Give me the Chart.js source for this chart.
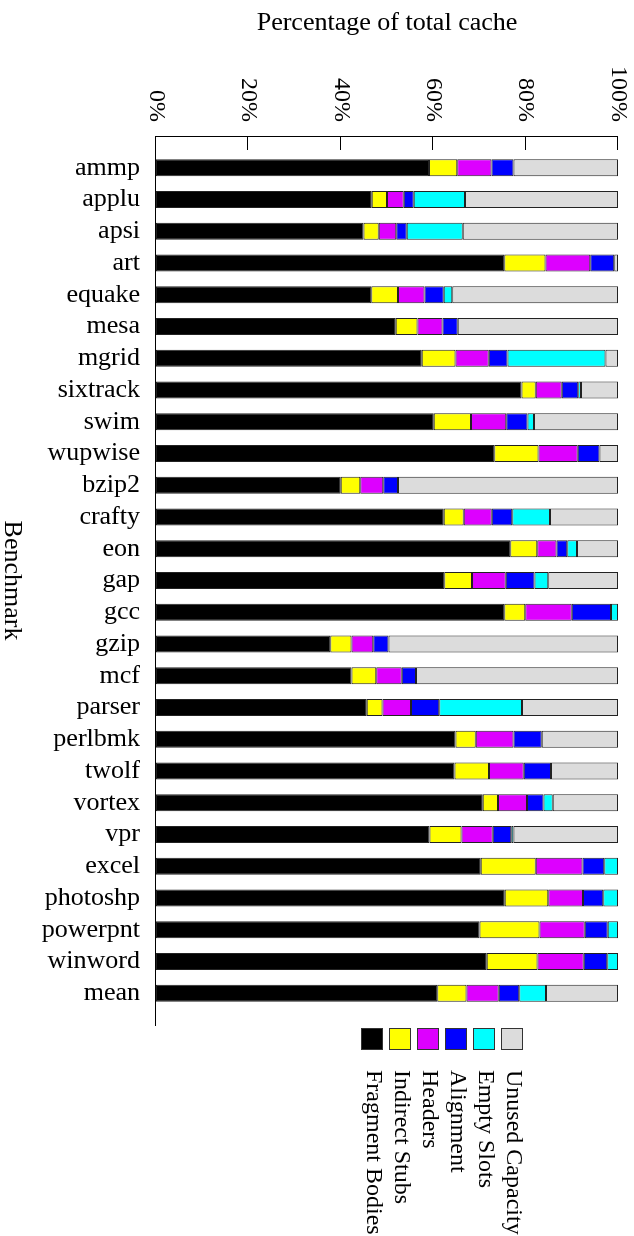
<!DOCTYPE html>
<html>
<head>
<meta charset="utf-8">
<script src="https://cdn.jsdelivr.net/npm/chart.js@4"></script>
<style>
html, body { margin: 0; padding: 0; background: #fff; overflow: hidden; width: 634px; height: 1236px; }
#wrap { position: absolute; left: 0; top: 0; width: 1236px; height: 634px; transform-origin: 0 0; transform: translate(634px, 0) rotate(90deg); }
canvas { display: block; }
</style>
</head>
<body>
<div id="wrap"><canvas id="c" width="1236" height="634"></canvas></div>
<script>
// ---- data ----
const categories = ['ammp','applu','apsi','art','equake','mesa','mgrid','sixtrack','swim','wupwise','bzip2','crafty','eon','gap','gcc','gzip','mcf','parser','perlbmk','twolf','vortex','vpr','excel','photoshp','powerpnt','winword','mean'];
const fragmentBodies = [59.1,46.7,44.9,75.4,46.6,51.9,57.5,79.1,60.1,73.2,40.0,62.3,76.7,62.4,75.4,37.7,42.3,45.6,64.8,64.6,70.7,59.2,70.3,75.5,70.0,71.6,60.9];
const indirectStubs  = [6.1,3.3,3.3,8.9,5.8,4.7,7.3,3.1,8.1,9.6,4.2,4.3,5.8,6.0,4.5,4.6,5.4,3.4,4.4,7.5,3.3,6.9,11.9,9.4,13.0,11.0,6.3];
const headers        = [7.4,3.6,3.8,9.7,5.7,5.4,7.2,5.6,7.6,8.5,5.0,6.1,4.2,7.3,10.1,4.7,5.5,6.2,8.2,7.5,6.3,6.8,10.1,7.5,9.8,10.0,7.0];
const alignment      = [4.8,2.2,2.3,5.2,4.2,3.3,4.1,3.6,4.6,4.7,3.2,4.4,2.3,6.2,8.5,3.3,3.1,6.1,6.1,5.9,3.6,4.0,4.7,4.4,5.0,5.1,4.4];
const emptySlots     = [0,11.1,12.1,0,1.8,0,21.2,0.6,1.4,0,0,8.2,2.1,3.0,1.5,0,0,17.9,0,0,2.0,0.5,3.0,3.2,2.2,2.3,5.8];
const unusedCapacity = [22.6,33.1,33.6,0.8,35.9,34.7,2.7,8.0,18.2,4.0,47.6,14.7,8.9,15.1,0,49.7,43.7,20.8,16.5,14.5,14.1,22.6,0,0,0,0,15.6];
const seriesNames = ['Fragment Bodies','Indirect Stubs','Headers','Alignment','Empty Slots','Unused Capacity'];
const percentTicks = [0,20,40,60,80,100];

const seriesValues = [fragmentBodies, indirectStubs, headers, alignment, emptySlots, unusedCapacity];
const seriesColors = ['#000000','#ffff00','#dd00ff','#0000ff','#00ffff','#dcdcdc'];

const FONT = '"Liberation Serif", "Times New Roman", serif';
Chart.defaults.font.family = FONT;
Chart.defaults.color = '#000';

const innerTicks = {
  id: 'innerTicks',
  afterDraw(chart) {
    const ctx = chart.ctx, ys = chart.scales.y, a = chart.chartArea;
    ctx.save();
    ctx.strokeStyle = '#000';
    ctx.lineWidth = 1;
    percentTicks.forEach(v => {
      if (v === 0) return;
      const py = Math.round(ys.getPixelForValue(v)) + 0.5;
      ctx.beginPath();
      ctx.moveTo(a.left, py);
      ctx.lineTo(a.left + 14, py);
      ctx.stroke();
    });
    ctx.restore();
  }
};

const sideLegend = {
  id: 'sideLegend',
  afterDraw(chart) {
    const ctx = chart.ctx, ds = chart.data.datasets, a = chart.chartArea;
    const n = ds.length;
    ctx.save();
    ctx.font = '24px ' + FONT;
    ctx.textBaseline = 'middle';
    ctx.textAlign = 'left';
    const bx = a.right + 3.5;
    for (let k = 0; k < n; k++) {
      const d = ds[n - 1 - k];
      const top = 111.5 + k * 28;
      ctx.fillStyle = d.backgroundColor;
      ctx.fillRect(bx, top, 21, 21);
      ctx.strokeStyle = '#333';
      ctx.lineWidth = 1;
      ctx.strokeRect(bx, top, 21, 21);
      ctx.fillStyle = '#000';
      ctx.fillText(d.label, bx + 41.5, top + 9);
    }
    ctx.restore();
  }
};

new Chart(document.getElementById('c'), {
  type: 'bar',
  data: {
    labels: categories,
    datasets: seriesValues.map((vals, s) => ({
      label: seriesNames[s],
      data: vals.map((v, i) => ({ x: i, y: v })),
      backgroundColor: seriesColors[s],
      borderColor: '#222',
      borderWidth: 1,
      borderSkipped: false,
      inflateAmount: 0,
      barThickness: 17
    }))
  },
  options: {
    responsive: false,
    animation: false,
    devicePixelRatio: 1,
    layout: { padding: { top: 16, right: 211, left: 0, bottom: 0 } },
    plugins: { legend: { display: false }, tooltip: { enabled: false } },
    scales: {
      x: {
        type: 'linear',
        stacked: true,
        offset: false,
        min: -1,
        max: 27,
        grid: { display: false, drawTicks: false, offset: false },
        border: { display: true, color: '#000', width: 1 },
        afterBuildTicks: s => { s.ticks = categories.map((_, i) => ({ value: i })); },
        afterFit: s => { s.height = 156; s.paddingLeft = 0; s.paddingRight = 0; },
        ticks: {
          stepSize: 1,
          autoSkip: false,
          minRotation: 90,
          maxRotation: 90,
          padding: 16,
          font: { size: 26 },
          color: '#000',
          callback: v => categories[v]
        },
        title: {
          display: true,
          text: 'Benchmark',
          font: { size: 26, lineHeight: 0.92 },
          padding: { top: 0, bottom: 0 },
          color: '#000'
        }
      },
      y: {
        stacked: true,
        min: 0,
        max: 100,
        grid: { display: false, drawTicks: false },
        border: { display: true, color: '#000', width: 1 },
        afterBuildTicks: s => { s.ticks = percentTicks.map(v => ({ value: v })); },
        afterFit: s => { s.width = 136; s.paddingTop = 0; s.paddingBottom = 0; },
        ticks: {
          stepSize: 20,
          padding: 14,
          font: { size: 24 },
          color: '#000',
          callback: v => v + '%'
        },
        title: {
          display: true,
          text: 'Percentage of total cache',
          font: { size: 26 },
          padding: { top: 8, bottom: 0 },
          color: '#000'
        }
      }
    }
  },
  plugins: [innerTicks, sideLegend]
});
</script>
</body>
</html>
